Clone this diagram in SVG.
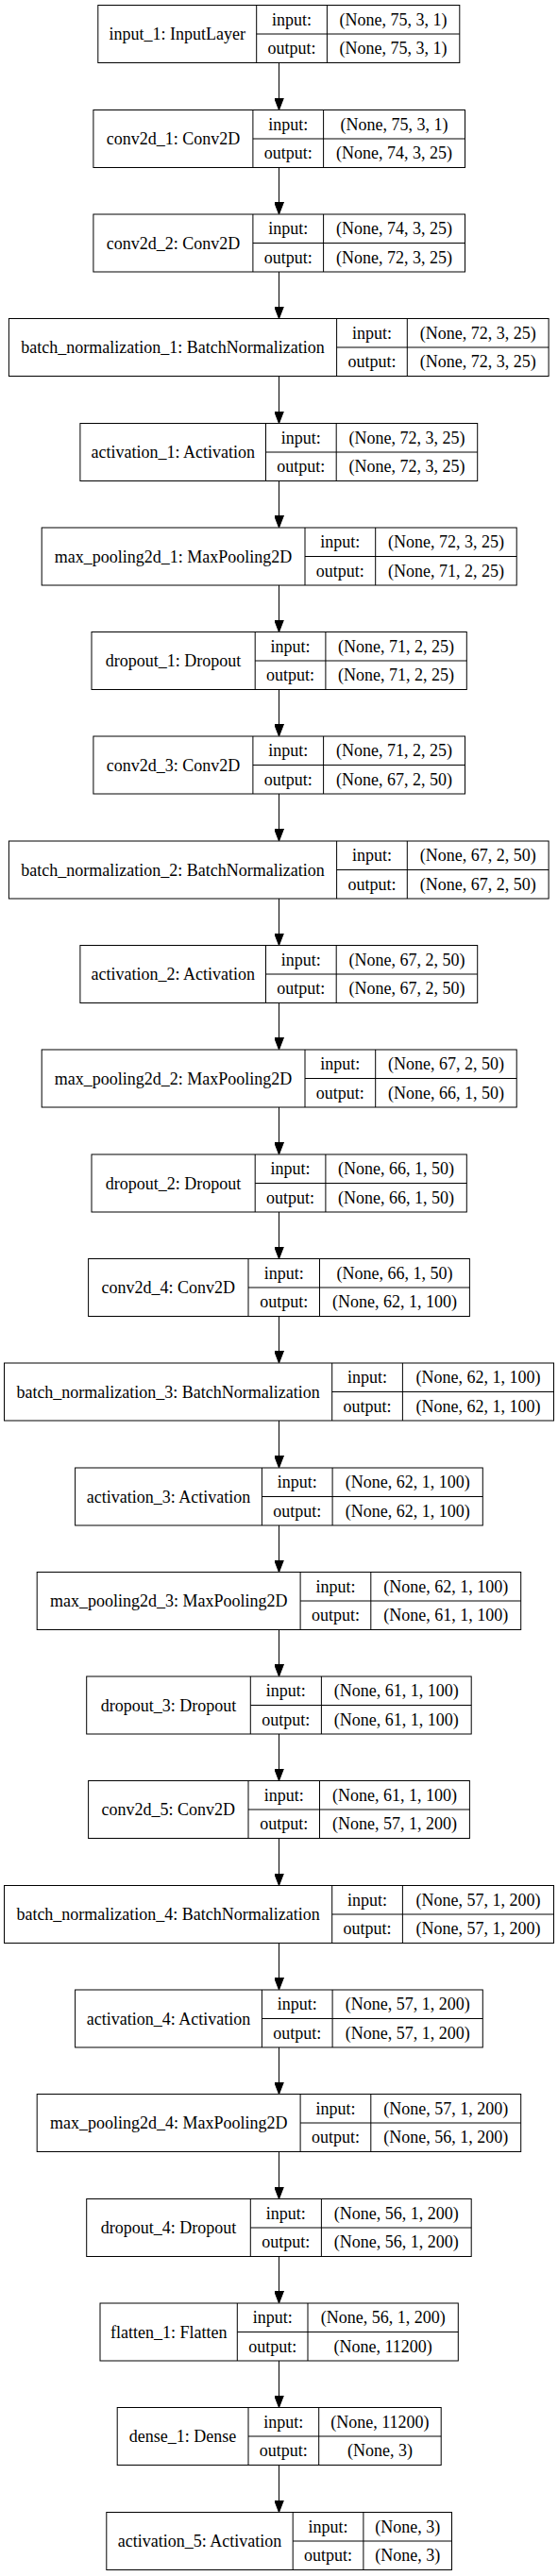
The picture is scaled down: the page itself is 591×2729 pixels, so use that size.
<svg xmlns="http://www.w3.org/2000/svg" width="591" height="2729" viewBox="0 0 591 2729">
<style>
.b{fill:none;stroke:#000;stroke-width:1}
.bg{fill:#fff}
text{font-family:"Liberation Serif","Times New Roman",serif;font-size:18px;text-anchor:middle;fill:#000}
.e{stroke:#000;stroke-width:1;fill:none}
</style>
<defs>
<marker id="ah" markerUnits="userSpaceOnUse" viewBox="0 0 13 10" refX="13" refY="5" markerWidth="13" markerHeight="10" orient="auto">
<path d="M0,0L13,5L0,10z" fill="#000" stroke="#000" stroke-width="1"/>
</marker>
</defs>
<rect width="591" height="2729" fill="#fff"/>
<g id="connectors">
<line class="e" x1="295.5" y1="66.5" x2="295.5" y2="116.5" marker-end="url(#ah)"/>
<line class="e" x1="295.5" y1="177.5" x2="295.5" y2="227" marker-end="url(#ah)"/>
<line class="e" x1="295.5" y1="288" x2="295.5" y2="337.5" marker-end="url(#ah)"/>
<line class="e" x1="295.5" y1="398.5" x2="295.5" y2="448.5" marker-end="url(#ah)"/>
<line class="e" x1="295.5" y1="509.5" x2="295.5" y2="559" marker-end="url(#ah)"/>
<line class="e" x1="295.5" y1="620" x2="295.5" y2="669.5" marker-end="url(#ah)"/>
<line class="e" x1="295.5" y1="730.5" x2="295.5" y2="780" marker-end="url(#ah)"/>
<line class="e" x1="295.5" y1="841" x2="295.5" y2="891" marker-end="url(#ah)"/>
<line class="e" x1="295.5" y1="952" x2="295.5" y2="1001.5" marker-end="url(#ah)"/>
<line class="e" x1="295.5" y1="1062.5" x2="295.5" y2="1112" marker-end="url(#ah)"/>
<line class="e" x1="295.5" y1="1173" x2="295.5" y2="1223" marker-end="url(#ah)"/>
<line class="e" x1="295.5" y1="1284" x2="295.5" y2="1333.5" marker-end="url(#ah)"/>
<line class="e" x1="295.5" y1="1394.5" x2="295.5" y2="1444" marker-end="url(#ah)"/>
<line class="e" x1="295.5" y1="1505" x2="295.5" y2="1555" marker-end="url(#ah)"/>
<line class="e" x1="295.5" y1="1616" x2="295.5" y2="1665.5" marker-end="url(#ah)"/>
<line class="e" x1="295.5" y1="1726.5" x2="295.5" y2="1776" marker-end="url(#ah)"/>
<line class="e" x1="295.5" y1="1837" x2="295.5" y2="1886.5" marker-end="url(#ah)"/>
<line class="e" x1="295.5" y1="1947.5" x2="295.5" y2="1997.5" marker-end="url(#ah)"/>
<line class="e" x1="295.5" y1="2058.5" x2="295.5" y2="2108" marker-end="url(#ah)"/>
<line class="e" x1="295.5" y1="2169" x2="295.5" y2="2218.5" marker-end="url(#ah)"/>
<line class="e" x1="295.5" y1="2279.5" x2="295.5" y2="2329.5" marker-end="url(#ah)"/>
<line class="e" x1="295.5" y1="2390.5" x2="295.5" y2="2440" marker-end="url(#ah)"/>
<line class="e" x1="295.5" y1="2501" x2="295.5" y2="2550.5" marker-end="url(#ah)"/>
<line class="e" x1="295.5" y1="2611.5" x2="295.5" y2="2661.5" marker-end="url(#ah)"/>
</g>

<g id="input_1" transform="translate(0,5.5)">
<rect class="b" x="103.8" y="0" width="383" height="61"/>
<path class="b" d="M271.7 0V61M346.4 0V61M271.7 30.5H486.8"/>
<text x="187.75" y="36.5">input_1: InputLayer</text>
<text x="309.05" y="21">input:</text><text x="309.05" y="51.5">output:</text>
<text x="416.6" y="21">(None, 75, 3, 1)</text><text x="416.6" y="51.5">(None, 75, 3, 1)</text>
</g>

<g id="conv2d_1" transform="translate(0,116.5)">
<rect class="b" x="98.9" y="0" width="393.6" height="61"/>
<path class="b" d="M267.9 0V61M342.6 0V61M267.9 30.5H492.5"/>
<text x="183.4" y="36.5">conv2d_1: Conv2D</text>
<text x="305.25" y="21">input:</text><text x="305.25" y="51.5">output:</text>
<text x="417.55" y="21">(None, 75, 3, 1)</text><text x="417.55" y="51.5">(None, 74, 3, 25)</text>
</g>

<g id="conv2d_2" transform="translate(0,227)">
<rect class="b" x="98.9" y="0" width="393.6" height="61"/>
<path class="b" d="M267.9 0V61M342.6 0V61M267.9 30.5H492.5"/>
<text x="183.4" y="36.5">conv2d_2: Conv2D</text>
<text x="305.25" y="21">input:</text><text x="305.25" y="51.5">output:</text>
<text x="417.55" y="21">(None, 74, 3, 25)</text><text x="417.55" y="51.5">(None, 72, 3, 25)</text>
</g>

<g id="batch_normalization_1" transform="translate(0,337.5)">
<rect class="b" x="9.4" y="0" width="571.7" height="61"/>
<path class="b" d="M356.6 0V61M431.3 0V61M356.6 30.5H581.1"/>
<text x="183" y="36.5">batch_normalization_1: BatchNormalization</text>
<text x="393.95" y="21">input:</text><text x="393.95" y="51.5">output:</text>
<text x="506.2" y="21">(None, 72, 3, 25)</text><text x="506.2" y="51.5">(None, 72, 3, 25)</text>
</g>

<g id="activation_1" transform="translate(0,448.5)">
<rect class="b" x="84.9" y="0" width="420.8" height="61"/>
<path class="b" d="M281.5 0V61M356.2 0V61M281.5 30.5H505.7"/>
<text x="183.2" y="36.5">activation_1: Activation</text>
<text x="318.85" y="21">input:</text><text x="318.85" y="51.5">output:</text>
<text x="430.95" y="21">(None, 72, 3, 25)</text><text x="430.95" y="51.5">(None, 72, 3, 25)</text>
</g>

<g id="max_pooling2d_1" transform="translate(0,559)">
<rect class="b" x="44.2" y="0" width="503" height="61"/>
<path class="b" d="M323 0V61M397.7 0V61M323 30.5H547.2"/>
<text x="183.6" y="36.5">max_pooling2d_1: MaxPooling2D</text>
<text x="360.35" y="21">input:</text><text x="360.35" y="51.5">output:</text>
<text x="472.45" y="21">(None, 72, 3, 25)</text><text x="472.45" y="51.5">(None, 71, 2, 25)</text>
</g>

<g id="dropout_1" transform="translate(0,669.5)">
<rect class="b" x="97" y="0" width="397.3" height="61"/>
<path class="b" d="M270.2 0V61M344.9 0V61M270.2 30.5H494.3"/>
<text x="183.6" y="36.5">dropout_1: Dropout</text>
<text x="307.55" y="21">input:</text><text x="307.55" y="51.5">output:</text>
<text x="419.6" y="21">(None, 71, 2, 25)</text><text x="419.6" y="51.5">(None, 71, 2, 25)</text>
</g>

<g id="conv2d_3" transform="translate(0,780)">
<rect class="b" x="98.9" y="0" width="393.6" height="61"/>
<path class="b" d="M267.9 0V61M342.6 0V61M267.9 30.5H492.5"/>
<text x="183.4" y="36.5">conv2d_3: Conv2D</text>
<text x="305.25" y="21">input:</text><text x="305.25" y="51.5">output:</text>
<text x="417.55" y="21">(None, 71, 2, 25)</text><text x="417.55" y="51.5">(None, 67, 2, 50)</text>
</g>

<g id="batch_normalization_2" transform="translate(0,891)">
<rect class="b" x="9.4" y="0" width="571.7" height="61"/>
<path class="b" d="M356.6 0V61M431.3 0V61M356.6 30.5H581.1"/>
<text x="183" y="36.5">batch_normalization_2: BatchNormalization</text>
<text x="393.95" y="21">input:</text><text x="393.95" y="51.5">output:</text>
<text x="506.2" y="21">(None, 67, 2, 50)</text><text x="506.2" y="51.5">(None, 67, 2, 50)</text>
</g>

<g id="activation_2" transform="translate(0,1001.5)">
<rect class="b" x="84.9" y="0" width="420.8" height="61"/>
<path class="b" d="M281.5 0V61M356.2 0V61M281.5 30.5H505.7"/>
<text x="183.2" y="36.5">activation_2: Activation</text>
<text x="318.85" y="21">input:</text><text x="318.85" y="51.5">output:</text>
<text x="430.95" y="21">(None, 67, 2, 50)</text><text x="430.95" y="51.5">(None, 67, 2, 50)</text>
</g>

<g id="max_pooling2d_2" transform="translate(0,1112)">
<rect class="b" x="44.2" y="0" width="503" height="61"/>
<path class="b" d="M323 0V61M397.7 0V61M323 30.5H547.2"/>
<text x="183.6" y="36.5">max_pooling2d_2: MaxPooling2D</text>
<text x="360.35" y="21">input:</text><text x="360.35" y="51.5">output:</text>
<text x="472.45" y="21">(None, 67, 2, 50)</text><text x="472.45" y="51.5">(None, 66, 1, 50)</text>
</g>

<g id="dropout_2" transform="translate(0,1223)">
<rect class="b" x="97" y="0" width="397.3" height="61"/>
<path class="b" d="M270.2 0V61M344.9 0V61M270.2 30.5H494.3"/>
<text x="183.6" y="36.5">dropout_2: Dropout</text>
<text x="307.55" y="21">input:</text><text x="307.55" y="51.5">output:</text>
<text x="419.6" y="21">(None, 66, 1, 50)</text><text x="419.6" y="51.5">(None, 66, 1, 50)</text>
</g>

<g id="conv2d_4" transform="translate(0,1333.5)">
<rect class="b" x="93.6" y="0" width="403.8" height="61"/>
<path class="b" d="M263 0V61M338.5 0V61M263 30.5H497.4"/>
<text x="178.3" y="36.5">conv2d_4: Conv2D</text>
<text x="300.75" y="21">input:</text><text x="300.75" y="51.5">output:</text>
<text x="417.95" y="21">(None, 66, 1, 50)</text><text x="417.95" y="51.5">(None, 62, 1, 100)</text>
</g>

<g id="batch_normalization_3" transform="translate(0,1444)">
<rect class="b" x="4.5" y="0" width="582" height="61"/>
<path class="b" d="M351.7 0V61M426.4 0V61M351.7 30.5H586.5"/>
<text x="178.1" y="36.5">batch_normalization_3: BatchNormalization</text>
<text x="389.05" y="21">input:</text><text x="389.05" y="51.5">output:</text>
<text x="506.45" y="21">(None, 62, 1, 100)</text><text x="506.45" y="51.5">(None, 62, 1, 100)</text>
</g>

<g id="activation_3" transform="translate(0,1555)">
<rect class="b" x="79.6" y="0" width="431.7" height="61"/>
<path class="b" d="M277.4 0V61M352.1 0V61M277.4 30.5H511.3"/>
<text x="178.5" y="36.5">activation_3: Activation</text>
<text x="314.75" y="21">input:</text><text x="314.75" y="51.5">output:</text>
<text x="431.7" y="21">(None, 62, 1, 100)</text><text x="431.7" y="51.5">(None, 62, 1, 100)</text>
</g>

<g id="max_pooling2d_3" transform="translate(0,1665.5)">
<rect class="b" x="39.2" y="0" width="512.5" height="61"/>
<path class="b" d="M318.1 0V61M392.8 0V61M318.1 30.5H551.7"/>
<text x="178.65" y="36.5">max_pooling2d_3: MaxPooling2D</text>
<text x="355.45" y="21">input:</text><text x="355.45" y="51.5">output:</text>
<text x="472.25" y="21">(None, 62, 1, 100)</text><text x="472.25" y="51.5">(None, 61, 1, 100)</text>
</g>

<g id="dropout_3" transform="translate(0,1776)">
<rect class="b" x="91.7" y="0" width="407.5" height="61"/>
<path class="b" d="M265.3 0V61M340.4 0V61M265.3 30.5H499.2"/>
<text x="178.5" y="36.5">dropout_3: Dropout</text>
<text x="302.85" y="21">input:</text><text x="302.85" y="51.5">output:</text>
<text x="419.8" y="21">(None, 61, 1, 100)</text><text x="419.8" y="51.5">(None, 61, 1, 100)</text>
</g>

<g id="conv2d_5" transform="translate(0,1886.5)">
<rect class="b" x="93.6" y="0" width="403.8" height="61"/>
<path class="b" d="M263 0V61M338.5 0V61M263 30.5H497.4"/>
<text x="178.3" y="36.5">conv2d_5: Conv2D</text>
<text x="300.75" y="21">input:</text><text x="300.75" y="51.5">output:</text>
<text x="417.95" y="21">(None, 61, 1, 100)</text><text x="417.95" y="51.5">(None, 57, 1, 200)</text>
</g>

<g id="batch_normalization_4" transform="translate(0,1997.5)">
<rect class="b" x="4.5" y="0" width="582" height="61"/>
<path class="b" d="M351.7 0V61M426.4 0V61M351.7 30.5H586.5"/>
<text x="178.1" y="36.5">batch_normalization_4: BatchNormalization</text>
<text x="389.05" y="21">input:</text><text x="389.05" y="51.5">output:</text>
<text x="506.45" y="21">(None, 57, 1, 200)</text><text x="506.45" y="51.5">(None, 57, 1, 200)</text>
</g>

<g id="activation_4" transform="translate(0,2108)">
<rect class="b" x="79.6" y="0" width="431.7" height="61"/>
<path class="b" d="M277.4 0V61M352.1 0V61M277.4 30.5H511.3"/>
<text x="178.5" y="36.5">activation_4: Activation</text>
<text x="314.75" y="21">input:</text><text x="314.75" y="51.5">output:</text>
<text x="431.7" y="21">(None, 57, 1, 200)</text><text x="431.7" y="51.5">(None, 57, 1, 200)</text>
</g>

<g id="max_pooling2d_4" transform="translate(0,2218.5)">
<rect class="b" x="39.2" y="0" width="512.5" height="61"/>
<path class="b" d="M318.1 0V61M392.8 0V61M318.1 30.5H551.7"/>
<text x="178.65" y="36.5">max_pooling2d_4: MaxPooling2D</text>
<text x="355.45" y="21">input:</text><text x="355.45" y="51.5">output:</text>
<text x="472.25" y="21">(None, 57, 1, 200)</text><text x="472.25" y="51.5">(None, 56, 1, 200)</text>
</g>

<g id="dropout_4" transform="translate(0,2329.5)">
<rect class="b" x="91.7" y="0" width="407.5" height="61"/>
<path class="b" d="M265.3 0V61M340.4 0V61M265.3 30.5H499.2"/>
<text x="178.5" y="36.5">dropout_4: Dropout</text>
<text x="302.85" y="21">input:</text><text x="302.85" y="51.5">output:</text>
<text x="419.8" y="21">(None, 56, 1, 200)</text><text x="419.8" y="51.5">(None, 56, 1, 200)</text>
</g>

<g id="flatten_1" transform="translate(0,2440)">
<rect class="b" x="106" y="0" width="379.3" height="61"/>
<path class="b" d="M251.3 0V61M326 0V61M251.3 30.5H485.3"/>
<text x="178.65" y="36.5">flatten_1: Flatten</text>
<text x="288.65" y="21">input:</text><text x="288.65" y="51.5">output:</text>
<text x="405.65" y="21">(None, 56, 1, 200)</text><text x="405.65" y="51.5">(None, 11200)</text>
</g>

<g id="dense_1" transform="translate(0,2550.5)">
<rect class="b" x="124.2" y="0" width="343" height="61"/>
<path class="b" d="M263 0V61M337.7 0V61M263 30.5H467.2"/>
<text x="193.6" y="36.5">dense_1: Dense</text>
<text x="300.35" y="21">input:</text><text x="300.35" y="51.5">output:</text>
<text x="402.45" y="21">(None, 11200)</text><text x="402.45" y="51.5">(None, 3)</text>
</g>

<g id="activation_5" transform="translate(0,2661.5)">
<rect class="b" x="112.8" y="0" width="365.7" height="61"/>
<path class="b" d="M310.2 0V61M384.9 0V61M310.2 30.5H478.5"/>
<text x="211.5" y="36.5">activation_5: Activation</text>
<text x="347.55" y="21">input:</text><text x="347.55" y="51.5">output:</text>
<text x="431.7" y="21">(None, 3)</text><text x="431.7" y="51.5">(None, 3)</text>
</g>
</svg>
